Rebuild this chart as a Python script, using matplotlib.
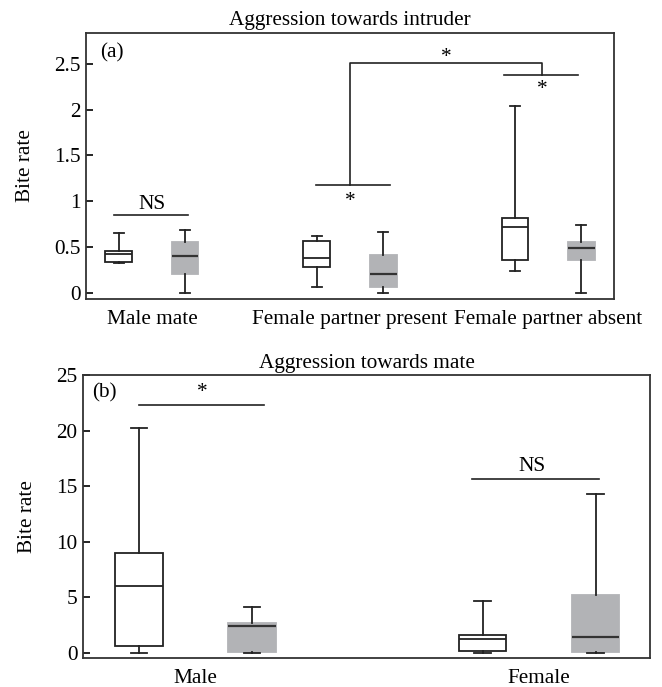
import matplotlib
matplotlib.use('Agg')
import matplotlib.pyplot as plt

plt.rcParams['font.family'] = ['Liberation Serif', 'DejaVu Serif']

# Panel (a): aggression towards intruder (white = first box, grey = second box of each group)
intruder_groups = ['Male mate', 'Female partner present', 'Female partner absent']
intruder_white_low = [0.32, 0.06, 0.24]
intruder_white_q1 = [0.34, 0.28, 0.36]
intruder_white_med = [0.42, 0.38, 0.72]
intruder_white_q3 = [0.46, 0.56, 0.82]
intruder_white_high = [0.65, 0.62, 2.04]
intruder_grey_low = [0.0, 0.0, 0.0]
intruder_grey_q1 = [0.20, 0.06, 0.36]
intruder_grey_med = [0.40, 0.20, 0.49]
intruder_grey_q3 = [0.55, 0.41, 0.55]
intruder_grey_high = [0.68, 0.66, 0.74]

# Panel (b): aggression towards mate
mate_groups = ['Male', 'Female']
mate_white_low = [0.0, 0.0]
mate_white_q1 = [0.65, 0.15]
mate_white_med = [6.0, 1.27]
mate_white_q3 = [9.0, 1.65]
mate_white_high = [20.2, 4.65]
mate_grey_low = [0.0, 0.0]
mate_grey_q1 = [0.1, 0.1]
mate_grey_med = [2.42, 1.48]
mate_grey_q3 = [2.7, 5.18]
mate_grey_high = [4.18, 14.27]

GREY = '#b2b3b6'
LINE = '#222222'
FS = 15.3


def make_stats(low, q1, med, q3, high):
    return [dict(whislo=a, q1=b, med=c, q3=d, whishi=e, fliers=[])
            for a, b, c, d, e in zip(low, q1, med, q3, high)]


def draw_boxes(ax, white, grey, offset, width):
    n = len(white)
    pos_w = [i + 1 - offset for i in range(n)]
    pos_g = [i + 1 + offset for i in range(n)]
    line = dict(color=LINE, linewidth=1.3)
    ax.bxp(white, positions=pos_w, widths=width, capwidths=width * 0.35,
           patch_artist=True, showfliers=False,
           boxprops=dict(facecolor='white', edgecolor=LINE, linewidth=1.3),
           medianprops=line, whiskerprops=line, capprops=line)
    ax.bxp(grey, positions=pos_g, widths=width, capwidths=width * 0.35,
           patch_artist=True, showfliers=False,
           boxprops=dict(facecolor=GREY, edgecolor=GREY, linewidth=1.3),
           medianprops=dict(color='#333333', linewidth=1.6),
           whiskerprops=line, capprops=line)


def style_axes(ax):
    for s in ax.spines.values():
        s.set_color('#333333')
        s.set_linewidth(1.3)
    ax.tick_params(axis='y', direction='in', length=5, width=1.2, labelsize=FS, pad=4)
    ax.tick_params(axis='x', length=0, labelsize=FS, pad=8)


fig = plt.figure(figsize=(6.62, 6.87), dpi=100)
W, H = 662, 687
ax1 = fig.add_axes([86 / W, 1 - 299 / H, (614 - 86) / W, (299 - 33) / H])
ax2 = fig.add_axes([83 / W, 1 - 658 / H, (650 - 83) / W, (658 - 375) / H])

# ---- panel (a)
draw_boxes(ax1,
           make_stats(intruder_white_low, intruder_white_q1, intruder_white_med,
                      intruder_white_q3, intruder_white_high),
           make_stats(intruder_grey_low, intruder_grey_q1, intruder_grey_med,
                      intruder_grey_q3, intruder_grey_high),
           0.167, 0.136)
ax1.set_xlim(0.667, 3.333)
ax1.set_ylim(-0.069, 2.838)
ax1.set_yticks([0, 0.5, 1, 1.5, 2, 2.5])
ax1.set_yticklabels(['0', '0.5', '1', '1.5', '2', '2.5'])
ax1.set_xticks([1, 2, 3])
ax1.set_xticklabels(intruder_groups)
ax1.set_ylabel('Bite rate', fontsize=FS)
ax1.yaxis.set_label_coords(-0.097, 0.5)
ax1.set_title('Aggression towards intruder', fontsize=FS, pad=6)
style_axes(ax1)

k = dict(color=LINE, linewidth=1.2)
ax1.plot([0.81, 1.18], [0.85, 0.85], **k)
ax1.text(1.0, 0.86, 'NS', ha='center', va='bottom', fontsize=FS)
ax1.plot([1.83, 2.20], [1.18, 1.18], **k)
ax1.plot([2.0, 2.0, 2.97, 2.97], [1.18, 2.51, 2.51, 2.38], **k)
ax1.plot([2.78, 3.15], [2.38, 2.38], **k)
ax1.text(2.0, 1.0, '*', ha='center', va='center', fontsize=FS)
ax1.text(2.97, 2.22, '*', ha='center', va='center', fontsize=FS)
ax1.text(2.485, 2.57, '*', ha='center', va='center', fontsize=FS)
ax1.text(0.80, 2.62, '(a)', ha='center', va='center', fontsize=FS)

# ---- panel (b)
draw_boxes(ax2,
           make_stats(mate_white_low, mate_white_q1, mate_white_med,
                      mate_white_q3, mate_white_high),
           make_stats(mate_grey_low, mate_grey_q1, mate_grey_med,
                      mate_grey_q3, mate_grey_high),
           0.1645, 0.137)
ax2.set_xlim(0.6725, 2.323)
ax2.set_ylim(-0.45, 25)
ax2.set_yticks([0, 5, 10, 15, 20, 25])
ax2.set_xticks([1, 2])
ax2.set_xticklabels(mate_groups)
ax2.set_ylabel('Bite rate', fontsize=FS)
ax2.yaxis.set_label_coords(-0.081, 0.5)
ax2.set_title('Aggression towards mate', fontsize=FS, pad=5)
style_axes(ax2)

ax2.plot([0.835, 1.20], [22.3, 22.3], **k)
ax2.text(1.02, 22.6, '*', ha='center', va='bottom', fontsize=FS)
ax2.plot([1.806, 2.175], [15.67, 15.67], **k)
ax2.text(1.98, 15.9, 'NS', ha='center', va='bottom', fontsize=FS)
ax2.text(0.736, 23.4, '(b)', ha='center', va='center', fontsize=FS)

fig.savefig('out.png', dpi=100)
